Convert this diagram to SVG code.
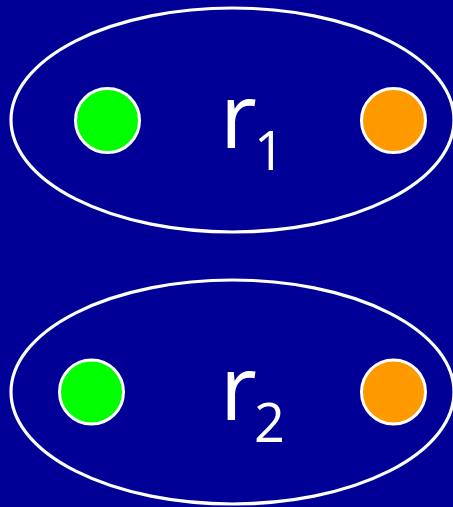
<svg xmlns="http://www.w3.org/2000/svg" width="453" height="507" viewBox="0 0 453 507">
<style>
.set{fill:none;stroke:#fff;stroke-width:3.2}
.el{stroke:#fff;stroke-width:3}
.g{fill:#00ff00}
.o{fill:#ff9900}
.lbl{fill:#fff;font-family:"Open Sans",sans-serif;font-size:90px}
.sub{font-size:54px}
</style>
<rect width="453" height="507" fill="#000096"/>
<g id="r1">
<ellipse class="set" cx="232.5" cy="120" rx="221.5" ry="112"/>
<text class="lbl" x="220" y="148">r<tspan class="sub" x="254" y="170">1</tspan></text>
</g>
<g id="r1-green"><circle class="el g" cx="107.5" cy="120.5" r="32"/></g>
<g id="r1-orange"><circle class="el o" cx="393.5" cy="120.5" r="32"/></g>
<g id="r2">
<ellipse class="set" cx="232.5" cy="392" rx="221.5" ry="112"/>
<text class="lbl" x="220" y="420">r<tspan class="sub" x="254" y="442">2</tspan></text>
</g>
<g id="r2-green"><circle class="el g" cx="91.5" cy="392" r="32"/></g>
<g id="r2-orange"><circle class="el o" cx="393.5" cy="392" r="32"/></g>
<g id="connectors"></g>
</svg>
